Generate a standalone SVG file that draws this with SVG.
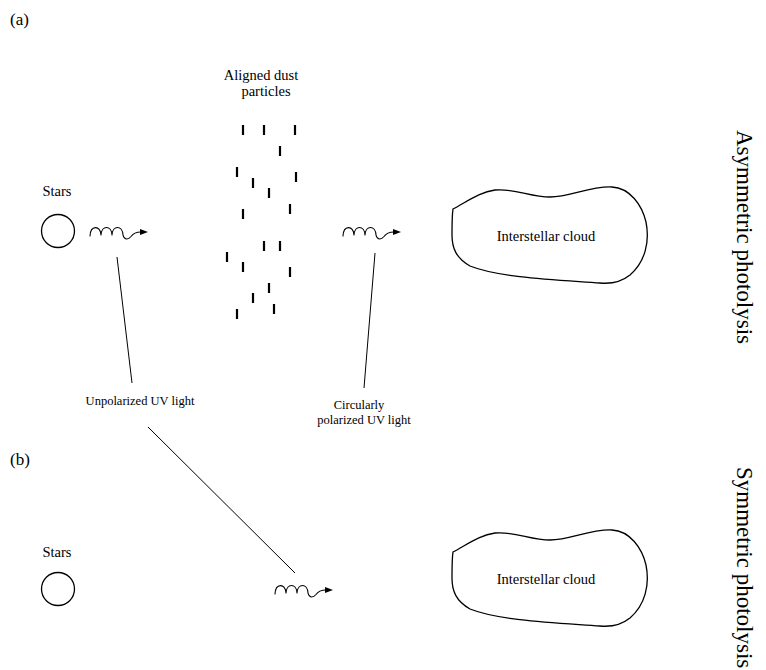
<svg xmlns="http://www.w3.org/2000/svg" width="766" height="670" viewBox="0 0 766 670">
<defs>
<style>
text{font-family:"Liberation Serif","Times New Roman",serif;fill:#000}
.lbl{font-size:14.5px;text-anchor:middle}
.sm{font-size:12.5px;text-anchor:middle}
.pan{font-size:17px}
.side{font-size:23px}
.outline{fill:none;stroke:#000;stroke-width:1.3}
.wave{fill:none;stroke:#000;stroke-width:1.1;stroke-linecap:round;stroke-linejoin:round}
.conn{stroke:#000;stroke-width:1;fill:none}
.dash{stroke:#000;stroke-width:2.2}
</style>
<g id="wave-shape">
<path class="wave" d="M0,4 C0.5,-7 10.5,-7 11,3 C11.5,-7 21.5,-7 22,3 C22.5,-7 32.5,-7 33,3 C34,8 38,8 41,4.5 C43,1.5 46,0 51,0"/>
<polygon points="50,-3 58,0 50,3" fill="#000"/>
</g>
<path id="cloud-shape" d="M453,209 C468,201 480,192 495,190 C515,188 530,197 550,197 C570,197 590,186 612,187 C630,188 642,205 646,222 C650,242 645,262 630,275 C620,283 610,284 600,283 C560,280 500,278 470,266 C456,258 452,248 452,235 C452,225 452,215 453,209 Z"/>
</defs>

<g id="panel-a-label"><text class="pan" x="10" y="25">(a)</text></g>
<g id="panel-b-label"><text class="pan" x="10" y="465">(b)</text></g>

<g id="stars-a">
<text class="lbl" x="57" y="196">Stars</text>
<circle class="outline" cx="58" cy="231" r="16.5"/>
</g>

<g id="wave-a1"><use href="#wave-shape" transform="translate(90,232)"/></g>

<g id="dust">
<text class="lbl" x="261" y="80">Aligned dust</text>
<text class="lbl" x="266" y="96">particles</text>
<line class="dash" x1="243" y1="125" x2="243" y2="135"/>
<line class="dash" x1="264" y1="125" x2="264" y2="135"/>
<line class="dash" x1="295" y1="125" x2="295" y2="135"/>
<line class="dash" x1="280" y1="146" x2="280" y2="156"/>
<line class="dash" x1="237" y1="167" x2="237" y2="177"/>
<line class="dash" x1="253" y1="178" x2="253" y2="188"/>
<line class="dash" x1="296" y1="172" x2="296" y2="182"/>
<line class="dash" x1="269" y1="188" x2="269" y2="198"/>
<line class="dash" x1="290" y1="204" x2="290" y2="214"/>
<line class="dash" x1="243" y1="209" x2="243" y2="219"/>
<line class="dash" x1="264" y1="241" x2="264" y2="251"/>
<line class="dash" x1="280" y1="241" x2="280" y2="251"/>
<line class="dash" x1="227" y1="252" x2="227" y2="262"/>
<line class="dash" x1="243" y1="262" x2="243" y2="272"/>
<line class="dash" x1="290" y1="267" x2="290" y2="277"/>
<line class="dash" x1="269" y1="283" x2="269" y2="293"/>
<line class="dash" x1="253" y1="293" x2="253" y2="303"/>
<line class="dash" x1="274" y1="304" x2="274" y2="314"/>
<line class="dash" x1="237" y1="309" x2="237" y2="319"/>
</g>

<g id="wave-a2"><use href="#wave-shape" transform="translate(343,232)"/></g>

<g id="cloud-a">
<use href="#cloud-shape" class="outline"/>
<text class="lbl" x="546" y="241">Interstellar cloud</text>
</g>

<g id="label-unpolarized"><text class="sm" x="140" y="405">Unpolarized UV light</text></g>
<g id="label-circular">
<text class="sm" x="359" y="409">Circularly</text>
<text class="sm" x="364" y="424">polarized UV light</text>
</g>

<g id="stars-b">
<text class="lbl" x="57" y="557">Stars</text>
<circle class="outline" cx="58" cy="589" r="16.5"/>
</g>

<g id="wave-b"><use href="#wave-shape" transform="translate(275,590)"/></g>

<g id="cloud-b">
<use href="#cloud-shape" class="outline" transform="translate(0,343)"/>
<text class="lbl" x="546" y="584">Interstellar cloud</text>
</g>

<g id="side-a"><text class="side" transform="translate(737,130) rotate(90)">Asymmetric photolysis</text></g>
<g id="side-b"><text class="side" transform="translate(737,467) rotate(90)">Symmetric photolysis</text></g>

<g id="connectors">
<line class="conn" x1="117" y1="257" x2="132" y2="383"/>
<line class="conn" x1="375" y1="253" x2="364" y2="388"/>
<line class="conn" x1="148" y1="427" x2="295" y2="573"/>
</g>
</svg>
